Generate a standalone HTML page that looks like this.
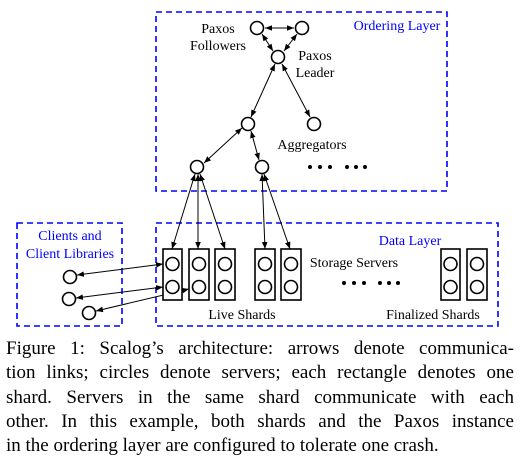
<!DOCTYPE html>
<html><head><style>
body{margin:0;background:#fff;width:520px;height:460px;overflow:hidden;position:relative;font-family:"Liberation Serif",serif;}
.cap{position:absolute;left:6px;width:508px;font-size:19px;line-height:24.4px;text-align:justify;text-align-last:justify;white-space:nowrap;}
</style></head><body>
<svg width="520" height="340" style="position:absolute;left:0;top:0" font-family="Liberation Serif, serif">
<defs><marker id="a" viewBox="0 0 10 10" refX="10" refY="5" markerWidth="7" markerHeight="7" orient="auto-start-reverse"><path d="M0,1 L10,5 L0,9 z" fill="#000"/></marker></defs>
<g fill="none" stroke="#00f" stroke-width="1.6" stroke-dasharray="6,4">
<rect x="156" y="12" width="291" height="179"/>
<rect x="156" y="223" width="342" height="103"/>
<rect x="17" y="223" width="105" height="103"/>
</g>
<g stroke="#000" stroke-width="1" fill="none" marker-start="url(#a)" marker-end="url(#a)">
<line x1="265" y1="28" x2="294" y2="28"/>
<line x1="262" y1="34" x2="273" y2="51"/>
<line x1="297" y1="34" x2="284" y2="51"/>
<line x1="275" y1="64" x2="251" y2="117"/>
<line x1="282" y1="64" x2="310" y2="117"/>
<line x1="242" y1="128" x2="204" y2="163"/>
<line x1="251" y1="131" x2="259" y2="160"/>
<line x1="195" y1="174" x2="172" y2="249"/>
<line x1="198" y1="174" x2="198" y2="249"/>
<line x1="200" y1="174" x2="225" y2="249"/>
<line x1="262" y1="174" x2="265" y2="249"/>
<line x1="264" y1="174" x2="290" y2="249"/>
<line x1="77" y1="275" x2="163" y2="264"/>
<line x1="76" y1="298" x2="163" y2="287"/>
<line x1="96" y1="311" x2="189" y2="289"/>
</g>
<g fill="#fff" stroke="#000" stroke-width="1.6">
<circle cx="257" cy="28" r="6.5"/><circle cx="302" cy="28" r="6.5"/><circle cx="278" cy="57" r="6.5"/>
<circle cx="248" cy="124" r="6.5"/><circle cx="314" cy="124" r="6.5"/><circle cx="197" cy="167" r="6.5"/><circle cx="262" cy="167" r="6.5"/>
<circle cx="70" cy="277" r="6.5"/><circle cx="69" cy="299" r="6.5"/><circle cx="89" cy="313" r="6.5"/>
<rect x="163" y="249" width="19" height="51"/><rect x="189" y="249" width="20" height="51"/><rect x="215" y="249" width="20" height="51"/>
<rect x="255" y="249" width="20" height="51"/><rect x="281" y="249" width="20" height="51"/>
<rect x="441" y="249" width="19" height="51"/><rect x="467" y="249" width="20" height="51"/>
<circle cx="172.5" cy="264" r="6.5"/><circle cx="172.5" cy="287" r="6.5"/>
<circle cx="199" cy="264" r="6.5"/><circle cx="199" cy="287" r="6.5"/>
<circle cx="225" cy="264" r="6.5"/><circle cx="225" cy="287" r="6.5"/>
<circle cx="265" cy="264" r="6.5"/><circle cx="265" cy="287" r="6.5"/>
<circle cx="291" cy="264" r="6.5"/><circle cx="291" cy="287" r="6.5"/>
<circle cx="450.5" cy="264" r="6.5"/><circle cx="450.5" cy="287" r="6.5"/>
<circle cx="477" cy="264" r="6.5"/><circle cx="477" cy="287" r="6.5"/>
</g>
<g fill="#000">
<circle cx="310" cy="167" r="2"/><circle cx="320" cy="167" r="2"/><circle cx="330" cy="167" r="2"/>
<circle cx="347" cy="167" r="2"/><circle cx="356" cy="167" r="2"/><circle cx="365" cy="167" r="2"/>
<circle cx="344" cy="283" r="2"/><circle cx="354" cy="283" r="2"/><circle cx="364" cy="283" r="2"/>
<circle cx="380" cy="283" r="2"/><circle cx="389" cy="283" r="2"/><circle cx="398" cy="283" r="2"/>
</g>
<g font-size="14" text-anchor="middle" fill="#000">
<text x="218" y="33">Paxos</text><text x="218" y="50">Followers</text>
<text x="315" y="60">Paxos</text><text x="315" y="77">Leader</text>
<text x="312" y="149">Aggregators</text>
<text x="354" y="267">Storage Servers</text>
<text x="242" y="319">Live Shards</text>
<text x="433" y="319">Finalized Shards</text>
</g>
<g font-size="14" text-anchor="middle" fill="#00f">
<text x="397" y="30">Ordering Layer</text>
<text x="410" y="245">Data Layer</text>
<text x="70" y="240">Clients and</text><text x="70" y="258">Client Libraries</text>
</g>
</svg>
<div class="cap" style="top:337px">Figure 1: Scalog’s architecture: arrows denote communica-</div>
<div class="cap" style="top:361px">tion links; circles denote servers; each rectangle denotes one</div>
<div class="cap" style="top:386px">shard. Servers in the same shard communicate with each</div>
<div class="cap" style="top:410px">other. In this example, both shards and the Paxos instance</div>
<div class="cap" style="top:434px;text-align-last:left">in the ordering layer are configured to tolerate one crash.</div>
</body></html>
